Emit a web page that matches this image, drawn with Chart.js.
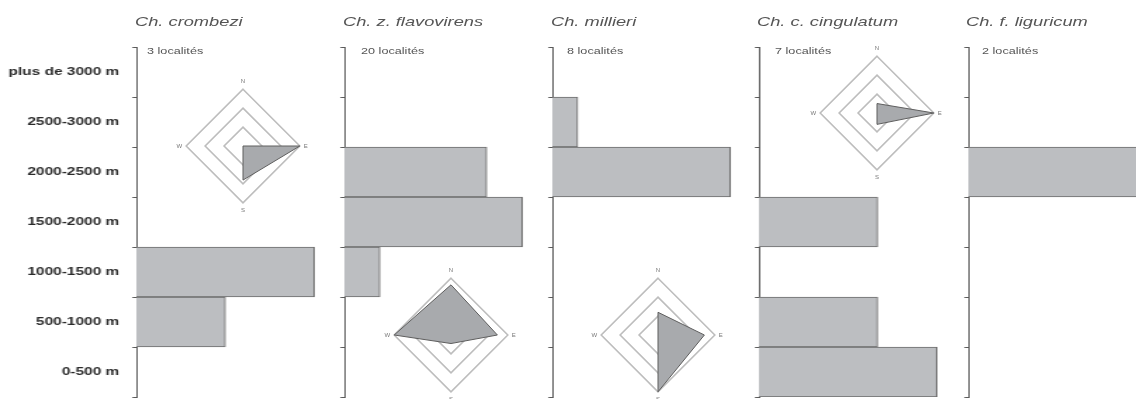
<!DOCTYPE html>
<html lang="fr">
<head>
<meta charset="utf-8">
<title>Répartition altitudinale et exposition</title>
<script src="https://cdn.jsdelivr.net/npm/chart.js@4.4.1/dist/chart.umd.min.js"></script>
<style>
  html, body { margin: 0; padding: 0; background: #fff; overflow: hidden; }
  body { width: 1136px; height: 399px; position: relative; }
  #fig { position: absolute; left: 0; top: 0; width: 820px; height: 399px;
         transform-origin: 0 0; }
  #fig canvas, #roses canvas { position: absolute; }
  #roses { position: absolute; left: 0; top: 0; width: 1136px; height: 399px; }
  .title { position: absolute; font-family: "Liberation Sans", Arial, sans-serif;
           font-style: italic; font-size: 13px; line-height: 15px; color: #555; white-space: nowrap; }
  .count { position: absolute; font-family: "Liberation Sans", Arial, sans-serif;
           font-size: 9px; line-height: 11px; color: #555; white-space: nowrap; }
</style>
</head>
<body>
<div id="fig"></div>
<div id="roses"></div>
<script>
// Altitude bands, top to bottom
const altitudeBands = ['plus de 3000 m', '2500-3000 m', '2000-2500 m', '1500-2000 m',
                       '1000-1500 m', '500-1000 m', '0-500 m'];

// Taxa and number of localities
const taxa = ['Ch. crombezi', 'Ch. z. flavovirens', 'Ch. millieri', 'Ch. c. cingulatum', 'Ch. f. liguricum'];
const localityLabels = ['3 localités', '20 localités', '8 localités', '7 localités', '2 localités'];

// Localities per altitude band (same order as altitudeBands)
const crombeziBands    = [0, 0, 0, 0, 2, 1, 0];
const flavovirensBands = [0, 0, 8, 10, 2, 0, 0];
const millieriBands    = [0, 1, 7, 0, 0, 0, 0];
const cingulatumBands  = [0, 0, 0, 2, 0, 2, 3];
const liguricumBands   = [0, 0, 2, 0, 0, 0, 0];

// Exposure roses (N, E, S, W)
const exposureLabels = ['N', 'E', 'S', 'W'];
const crombeziExposure    = [0, 3, 1.8, 0];
const flavovirensExposure = [2.65, 2.45, 0.45, 3];
const millieriExposure    = [1.2, 2.45, 3, 0];
const cingulatumExposure  = [0.5, 3, 0.6, 0];

// ---- layout ----
const STRETCH = 208 / 148;          // horizontal stretch of the figure
const PLOT_W = 148;                 // width of each panel's plot area (unstretched)
const HEADROOM = 208 / 178;         // longest bar fills 178 of 208 px
const axisX = [137, 345, 553, 759, 968];
const BAR_FILL = '#bcbec1';
const BAR_EDGE = '#6b6b6b';
const AXIS = '#5a5a5a';

const fig = document.getElementById('fig');
fig.style.transform = 'scaleX(' + STRETCH + ')';

const bandSets = [crombeziBands, flavovirensBands, millieriBands, cingulatumBands, liguricumBands];

bandSets.forEach((values, i) => {
  const yW = i === 0 ? 98 : 10;
  const c = document.createElement('canvas');
  c.width = yW + PLOT_W;
  c.height = 399;
  c.style.left = (axisX[i] / STRETCH - yW) + 'px';
  c.style.top = '0px';
  fig.appendChild(c);
  const maxCount = Math.max(...values);
  new Chart(c, {
    type: 'bar',
    data: {
      labels: altitudeBands,
      datasets: [{
        data: values,
        backgroundColor: BAR_FILL,
        borderColor: BAR_EDGE,
        borderWidth: 1,
        categoryPercentage: 1,
        barPercentage: 1
      }]
    },
    options: {
      indexAxis: 'y',
      responsive: false,
      animation: false,
      events: [],
      layout: { padding: { top: 47, bottom: 2, left: 0, right: 0 } },
      plugins: { legend: { display: false }, tooltip: { enabled: false } },
      scales: {
        x: { display: false, min: 0, max: maxCount * HEADROOM },
        y: {
          grid: { drawOnChartArea: false, drawTicks: true, tickLength: 2.8, color: AXIS, offset: true },
          border: { color: AXIS, width: 1 },
          ticks: {
            display: i === 0,
            color: '#2a2a2a',
            padding: 9.3,
            font: { family: '"Liberation Sans", Arial, sans-serif', size: 11, weight: 'bold' }
          },
          afterFit(scale) {
            scale.width = yW;
            scale.paddingTop = 0;
            scale.paddingBottom = 0;
          }
        }
      }
    }
  });

  const t = document.createElement('div');
  t.className = 'title';
  t.textContent = taxa[i];
  t.style.left = ((axisX[i] - 2) / STRETCH) + 'px';
  t.style.top = '14px';
  fig.appendChild(t);

  const n = document.createElement('div');
  n.className = 'count';
  n.textContent = localityLabels[i];
  const nx = [147, 361, 567, 775, 982][i];
  n.style.left = (nx / STRETCH) + 'px';
  n.style.top = '46px';
  fig.appendChild(n);
});

// ---- exposure roses ----
const roses = document.getElementById('roses');
const roseCentres = [[243, 146], [451, 335], [658, 335], [877, 113]];
const roseSets = [crombeziExposure, flavovirensExposure, millieriExposure, cingulatumExposure];

roseSets.forEach((values, i) => {
  const size = 136;
  const c = document.createElement('canvas');
  c.width = size;
  c.height = size;
  c.style.left = (roseCentres[i][0] - size / 2) + 'px';
  c.style.top = (roseCentres[i][1] - size / 2) + 'px';
  roses.appendChild(c);
  new Chart(c, {
    type: 'radar',
    data: {
      labels: exposureLabels,
      datasets: [{
        data: values,
        backgroundColor: '#a8aaad',
        borderColor: '#5e5e5e',
        borderWidth: 1,
        pointRadius: 0
      }]
    },
    options: {
      responsive: false,
      animation: false,
      events: [],
      plugins: { legend: { display: false }, tooltip: { enabled: false } },
      scales: {
        r: {
          min: 0, max: 3,
          ticks: { display: false, stepSize: 1 },
          grid: { color: '#bdbdbd', lineWidth: 1.6 },
          angleLines: { display: false },
          pointLabels: { color: '#777', padding: 4, font: { family: '"Liberation Sans", Arial, sans-serif', size: 6 } }
        }
      }
    }
  });
});
</script>
</body>
</html>
